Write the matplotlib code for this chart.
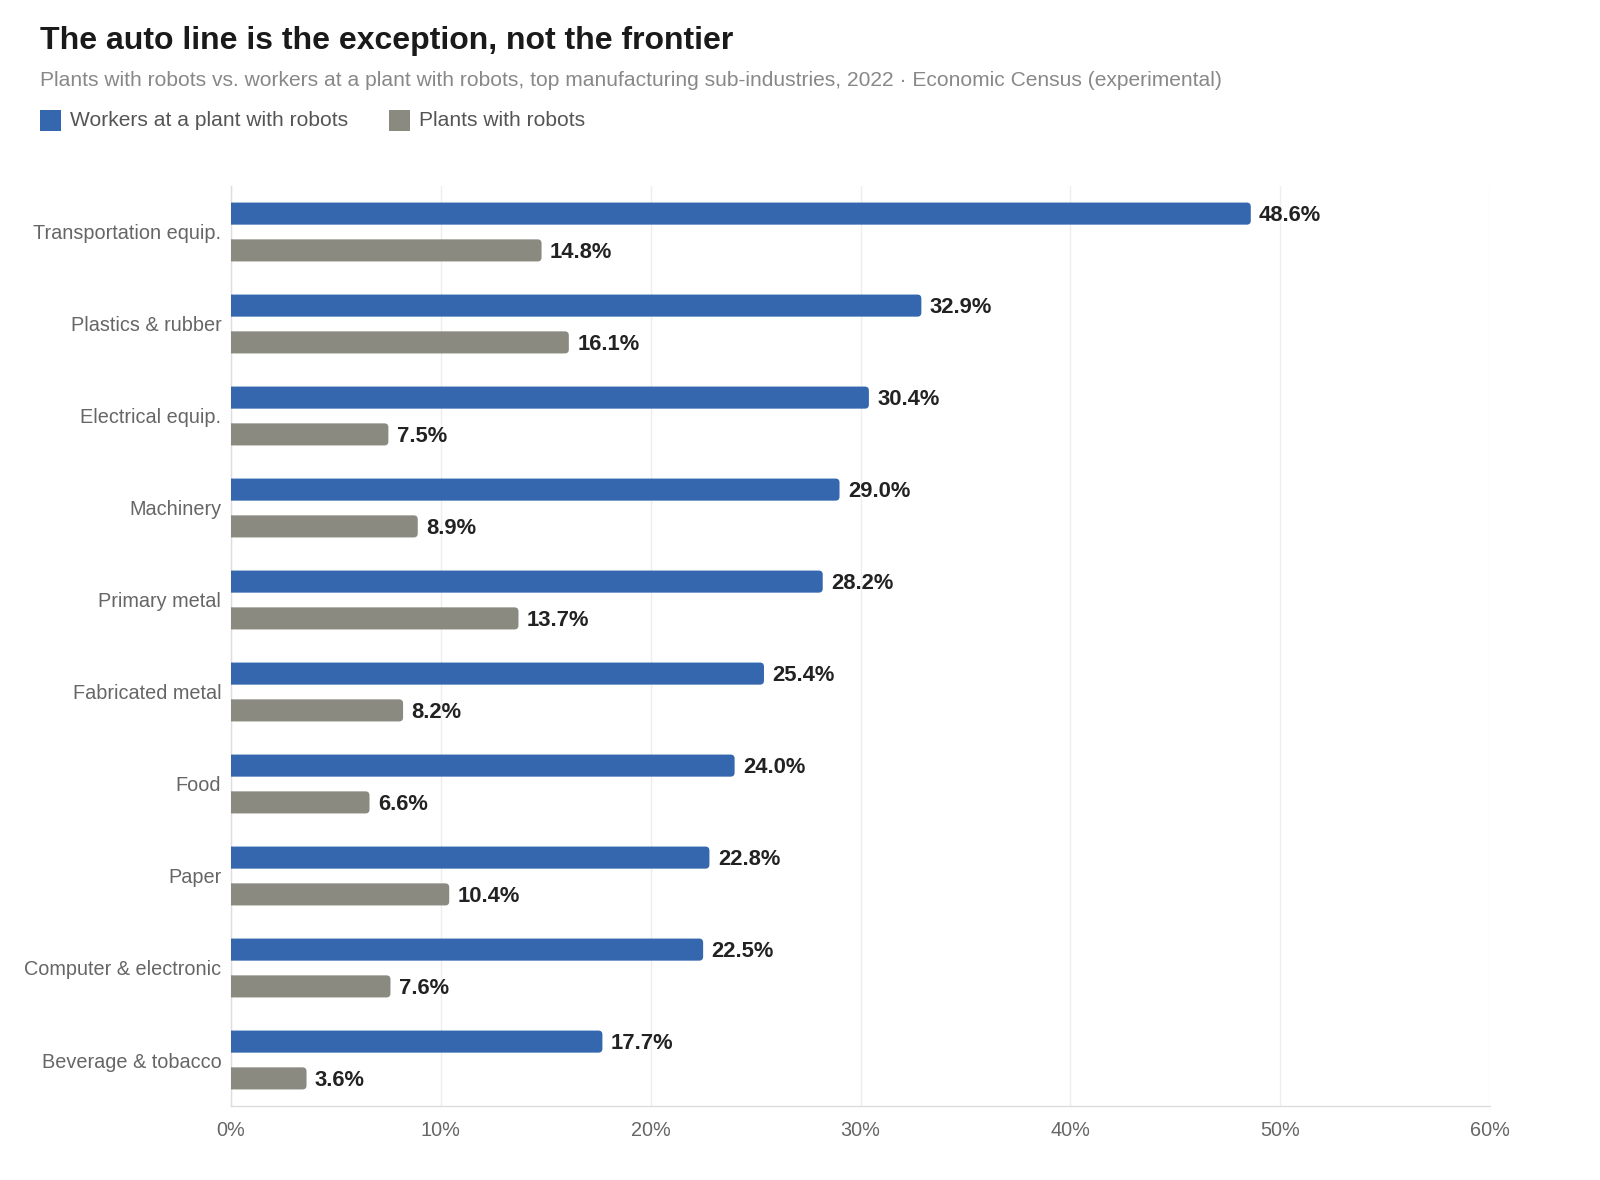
import matplotlib.pyplot as plt
from matplotlib.patches import FancyBboxPatch, Rectangle
from matplotlib.ticker import FuncFormatter

plt.rcParams['font.family'] = ['Liberation Sans', 'DejaVu Sans']

categories = ["Transportation equip.", "Plastics & rubber", "Electrical equip.", "Machinery",
              "Primary metal", "Fabricated metal", "Food", "Paper",
              "Computer & electronic", "Beverage & tobacco"]
workers = [48.6, 32.9, 30.4, 29.0, 28.2, 25.4, 24.0, 22.8, 22.5, 17.7]
plants = [14.8, 16.1, 7.5, 8.9, 13.7, 8.2, 6.6, 10.4, 7.6, 3.6]

blue = "#3467ae"
gray = "#8a8a80"

W, H = 1600, 1180
fig = plt.figure(figsize=(W / 100, H / 100), dpi=100)
ax_l, ax_r, ax_t, ax_b = 231, 1490, 186, 1106
ax = fig.add_axes([ax_l / W, 1 - ax_b / H, (ax_r - ax_l) / W, (ax_b - ax_t) / H])

xmax = 60
ax.set_xlim(0, xmax)
ax.set_ylim(len(categories) - 0.5, -0.5)

# rounded right ends: radius in px converted to data units
px_x = xmax / (ax_r - ax_l)
px_y = len(categories) / (ax_b - ax_t)
aspect = px_y / px_x
radius = 4 * px_x
bar_h = 0.24
off = 0.2


def rbar(y, val, color):
    p = FancyBboxPatch((-1, y - bar_h / 2), val + 1, bar_h,
                       boxstyle=f"round,pad=0,rounding_size={radius}",
                       mutation_aspect=aspect, fc=color, ec="none", zorder=3)
    ax.add_patch(p)
    ax.annotate(f"{val:.1f}%", (val, y), xytext=(6, -1.2), textcoords="offset points",
                va="center", ha="left", fontsize=15.8, fontweight="bold", color="#222222")


for i in range(len(categories)):
    rbar(i - off, workers[i], blue)
    rbar(i + off, plants[i], gray)

ax.set_yticks(range(len(categories)))
ax.set_yticklabels(categories, fontsize=14.3, color="#666666")
ax.set_xticks(range(0, xmax + 1, 10))
ax.xaxis.set_major_formatter(FuncFormatter(lambda v, p: f"{v:.0f}%"))
ax.tick_params(axis="x", length=0, pad=11, labelsize=14.3, labelcolor="#666666")
ax.tick_params(axis="y", length=0, pad=7)
ax.grid(axis="x", color="#eeeeee", lw=1, zorder=0)
ax.set_axisbelow(True)
for s in ["top", "right"]:
    ax.spines[s].set_visible(False)
for s in ["left", "bottom"]:
    ax.spines[s].set_color("#dddddd")
    ax.spines[s].set_linewidth(1)

fig.text(40 / W, 1 - 41 / H, "The auto line is the exception, not the frontier",
         fontsize=23, fontweight="bold", color="#1a1a1a", va="center", ha="left")
fig.text(40 / W, 1 - 81 / H,
         "Plants with robots vs. workers at a plant with robots, top manufacturing sub-industries, 2022 · Economic Census (experimental)",
         fontsize=15.1, color="#888888", va="center", ha="left")

# legend
leg_y = 121
for x0, col, lab in [(40, blue, "Workers at a plant with robots"), (389, gray, "Plants with robots")]:
    fig.patches.append(Rectangle((x0 / W, 1 - (leg_y + 10) / H), 21 / W, 21 / H,
                                 transform=fig.transFigure, fc=col, ec="none"))
    fig.text((x0 + 30) / W, 1 - leg_y / H, lab, fontsize=15.1, color="#555555",
             va="center", ha="left")

fig.savefig("out.png", dpi=100, facecolor="white")
